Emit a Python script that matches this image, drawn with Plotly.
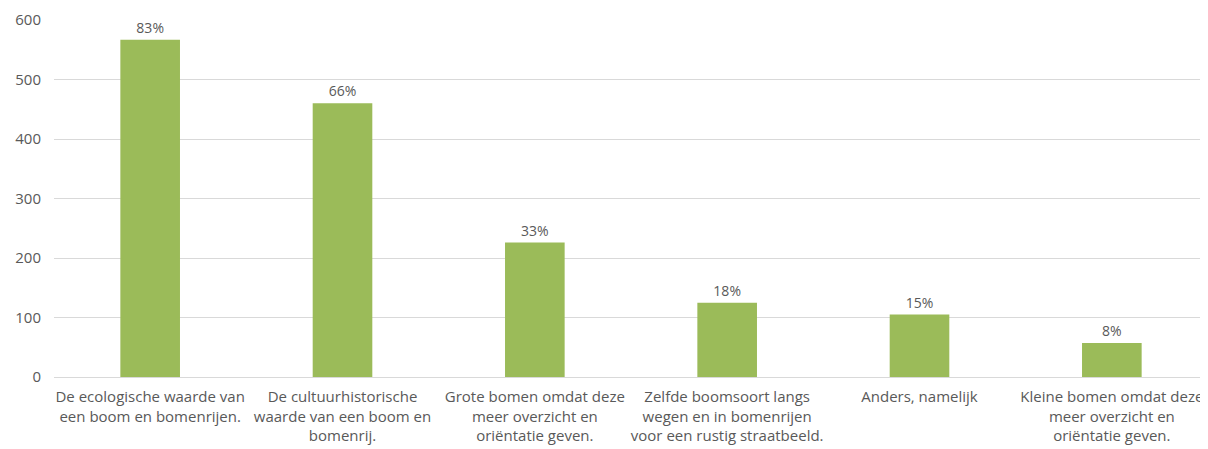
import plotly.graph_objects as go

categories = [
    "De ecologische waarde van<br>een boom en bomenrijen.",
    "De cultuurhistorische<br>waarde van een boom en<br>bomenrij.",
    "Grote bomen omdat deze<br>meer overzicht en<br>oriëntatie geven.",
    "Zelfde boomsoort langs<br>wegen en in bomenrijen<br>voor een rustig straatbeeld.",
    "Anders, namelijk",
    "Kleine bomen omdat deze<br>meer overzicht en<br>oriëntatie geven.",
]
counts = [567, 460, 226, 125, 105, 57]
percent_labels = ["83%", "66%", "33%", "18%", "15%", "8%"]
y_ticks = [0, 100, 200, 300, 400, 500, 600]

fig = go.Figure(
    go.Bar(
        x=list(range(len(categories))),
        y=counts,
        text=percent_labels,
        textposition="outside",
        cliponaxis=False,
        textfont=dict(size=14, color="#595959", family="Open Sans"),
        marker=dict(color="#9BBB59", line=dict(width=0)),
    )
)

fig.update_layout(
    width=1200,
    height=441,
    margin=dict(l=46, r=0, t=12, b=72, autoexpand=False),
    paper_bgcolor="white",
    plot_bgcolor="white",
    bargap=0.69,
    showlegend=False,
    font=dict(family="Open Sans", color="#595959", size=13),
)
fig.update_xaxes(
    tickmode="array",
    tickvals=list(range(len(categories))),
    ticktext=categories,
    range=[-0.5, len(categories) - 0.5],
    showgrid=False,
    showline=False,
    ticks="",
    automargin=False,
    ticklabelstandoff=9,
    tickfont=dict(size=15, color="#595959"),
)
fig.update_yaxes(
    range=[0, 600],
    tickvals=y_ticks,
    showgrid=True,
    gridcolor="#D9D9D9",
    gridwidth=1,
    zeroline=True,
    zerolinecolor="#D9D9D9",
    zerolinewidth=1,
    showline=False,
    ticks="",
    ticklen=0,
    automargin=False,
    ticklabelstandoff=12,
    tickfont=dict(size=15, color="#595959"),
)

fig.write_html("out.html")
